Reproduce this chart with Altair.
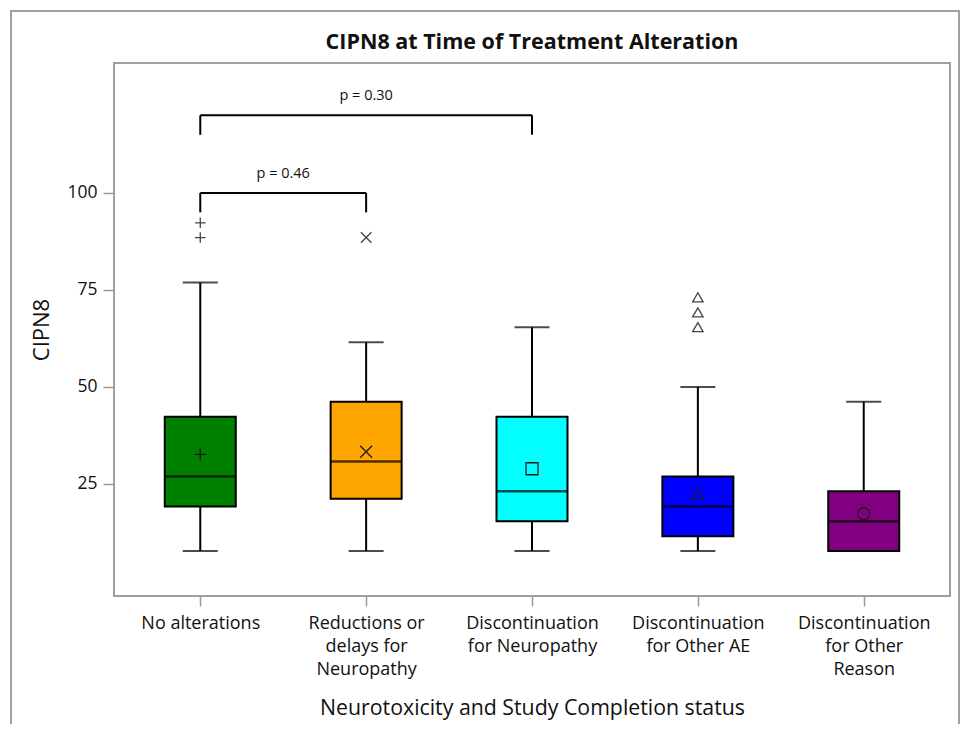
import json
import altair as alt
import pandas as pd

# ---------------- data ----------------
cats = [
    "No alterations",
    "Reductions or delays for Neuropathy",
    "Discontinuation for Neuropathy",
    "Discontinuation for Other AE",
    "Discontinuation for Other Reason",
]
label_lines = [
    ["No alterations"],
    ["Reductions or", "delays for", "Neuropathy"],
    ["Discontinuation", "for Neuropathy"],
    ["Discontinuation", "for Other AE"],
    ["Discontinuation", "for Other", "Reason"],
]
colors = ["#008000", "#FFA500", "#00FFFF", "#0000FF", "#800080"]
mean_shapes = ["M-1,0L1,0M0,-1L0,1", "M-1,-1L1,1M-1,1L1,-1", "square", "triangle-up", "circle"]

whisker_low = [7.7, 7.7, 7.7, 7.7, 7.7]
q1 = [19.2, 21.2, 15.4, 11.5, 7.7]
median = [26.9, 30.8, 23.1, 19.2, 15.4]
q3 = [42.3, 46.2, 42.3, 26.9, 23.1]
whisker_high = [76.9, 61.5, 65.4, 50.0, 46.2]
means = [32.6, 33.3, 28.9, 22.4, 17.3]

outlier_group = [0, 0, 1, 3, 3, 3]
outlier_value = [92.3, 88.5, 88.5, 73.1, 69.2, 65.4]

bracket_from = [0, 0]
bracket_to = [1, 2]
bracket_y = [100, 120]
bracket_tip = 5
p_labels = ["p = 0.46", "p = 0.30"]

y_ticks = [25, 50, 75, 100]
y_domain = [-3.9, 133.5]
x_domain = [-0.49, 4.49]

FONT = "Open Sans"

# ---------------- tables ----------------
idx = list(range(len(cats)))
stats = pd.DataFrame({
    "i": idx, "cat": cats, "lo": whisker_low, "q1": q1, "med": median,
    "q3": q3, "hi": whisker_high, "mean": means,
})
outs = pd.DataFrame({"i": outlier_group, "v": outlier_value,
                     "cat": [cats[g] for g in outlier_group]})
br = pd.DataFrame({"a": bracket_from, "b": bracket_to, "y": bracket_y,
                   "mid": [(a + b) / 2 for a, b in zip(bracket_from, bracket_to)],
                   "p": p_labels})
tips = pd.DataFrame({
    "x": bracket_from + bracket_to,
    "y": bracket_y + bracket_y,
    "ytip": [v - bracket_tip for v in bracket_y] * 2,
})

label_expr = json.dumps(label_lines) + "[datum.value]"

xscale = alt.Scale(domain=x_domain, nice=False, zero=False)
yscale = alt.Scale(domain=y_domain, nice=False, zero=False)

xaxis = alt.Axis(
    values=idx, labelExpr=label_expr, title="Neurotoxicity and Study Completion status",
    grid=False, domain=False, tickSize=10, tickColor="#999999", tickWidth=1.5,
    labelFont=FONT, labelFontSize=18, labelLineHeight=23, labelColor="#111111",
    labelPadding=8, labelFlush=False, labelOverlap=False, labelBound=False,
    titleFont=FONT, titleFontSize=21.3, titleFontWeight="normal", titleColor="#111111",
    titlePadding=19,
)
yaxis = alt.Axis(
    values=y_ticks, title="CIPN8", grid=False, domain=False, tickSize=11,
    tickColor="#999999", tickWidth=1.5,
    labelFont=FONT, labelFontSize=17.5, labelColor="#111111", labelPadding=6,
    titleFont=FONT, titleFontSize=22, titleFontWeight="normal", titleColor="#111111",
    titlePadding=13,
)

xs = alt.X("i:Q", scale=xscale)
color_scale = alt.Scale(domain=cats, range=colors)
shape_scale = alt.Scale(domain=cats, range=mean_shapes)

base = alt.Chart(stats)

whisk = base.mark_rule(color="black", strokeWidth=2).encode(
    x=alt.X("i:Q", scale=xscale, axis=xaxis),
    y=alt.Y("lo:Q", scale=yscale, axis=yaxis), y2="hi:Q")
cap_lo = base.mark_tick(color="black", size=35, thickness=2, orient="horizontal").encode(
    x=xs, y=alt.Y("lo:Q", scale=yscale))
cap_hi = base.mark_tick(color="black", size=35, thickness=2, orient="horizontal").encode(
    x=xs, y=alt.Y("hi:Q", scale=yscale))
box = base.mark_bar(size=71, stroke="black", strokeWidth=2, opacity=1).encode(
    x=xs, y=alt.Y("q1:Q", scale=yscale), y2="q3:Q",
    fill=alt.Fill("cat:N", scale=color_scale, legend=None))
med = base.mark_tick(color="black", size=71, thickness=2.5, orient="horizontal").encode(
    x=xs, y=alt.Y("med:Q", scale=yscale))
mean_pt = base.mark_point(filled=False, stroke="#1a1a1a", strokeWidth=1.3, size=144, opacity=1).encode(
    x=xs, y=alt.Y("mean:Q", scale=yscale),
    shape=alt.Shape("cat:N", scale=shape_scale, legend=None))
out_pt = alt.Chart(outs).mark_point(filled=False, stroke="#444444", strokeWidth=1.3, size=110, opacity=1).encode(
    x=xs, y=alt.Y("v:Q", scale=yscale),
    shape=alt.Shape("cat:N", scale=shape_scale, legend=None))

br_h = alt.Chart(br).mark_rule(color="black", strokeWidth=2).encode(
    x=alt.X("a:Q", scale=xscale), x2="b:Q", y=alt.Y("y:Q", scale=yscale))
br_v = alt.Chart(tips).mark_rule(color="black", strokeWidth=2).encode(
    x=alt.X("x:Q", scale=xscale), y=alt.Y("ytip:Q", scale=yscale), y2="y:Q")
br_t = alt.Chart(br).mark_text(font=FONT, fontSize=14.5, color="#111111", dy=-19, baseline="middle").encode(
    x=alt.X("mid:Q", scale=xscale), y=alt.Y("y:Q", scale=yscale), text="p:N")

frame = alt.Chart(pd.DataFrame({"k": [0]})).mark_rect(
    fill=None, stroke="#a0a0a0", strokeWidth=2).encode(
    x=alt.value(-103), x2=alt.value(845), y=alt.value(-52), y2=alt.value(720))

chart = alt.layer(
    frame, whisk, cap_lo, cap_hi, box, med, mean_pt, out_pt, br_h, br_v, br_t
).properties(
    width=836, height=533,
    background="white",
    title=alt.TitleParams("CIPN8 at Time of Treatment Alteration", font=FONT,
                          fontSize=21.5, fontWeight="bold", color="#111111",
                          anchor="middle", frame="group", offset=-43),
    autosize=alt.AutoSizeParams(type="none"),
    padding={"left": 106, "top": 55, "right": 10, "bottom": 128},
).configure_view(stroke="#a0a0a0", strokeWidth=2)

chart.save("out.html", embed_options={"renderer": "svg", "actions": False})
